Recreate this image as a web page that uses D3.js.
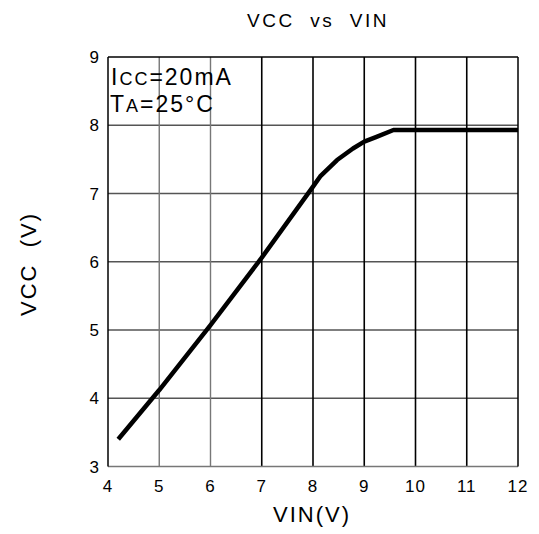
<!DOCTYPE html>
<html><head><meta charset="utf-8">
<script src="https://cdn.jsdelivr.net/npm/d3@7"></script>
<style>body{margin:0;background:#fff}text{font-family:"Liberation Sans",Arial,sans-serif;fill:#000;white-space:pre}</style>
</head><body><svg id="c" width="539" height="534"></svg>
<script>
const vin = [4.2, 5.0, 6.0, 7.0, 8.0, 8.14, 8.47, 8.78, 9.0, 9.24, 9.57, 10, 11, 12];
const vcc = [3.4, 4.12, 5.07, 6.06, 7.1, 7.25, 7.49, 7.66, 7.76, 7.83, 7.93, 7.93, 7.93, 7.93];
const xTicks = [4,5,6,7,8,9,10,11,12];
const yTicks = [3,4,5,6,7,8,9];
const title = "VCC  vs  VIN";
const xLabel = "VIN(V)";
const yLabel = "VCC  (V)";

const svg = d3.select("#c");
const L=108,R=518,T=57,B=466.5;
const x = d3.scaleLinear().domain([4,12]).range([L,R]);
const y = d3.scaleLinear().domain([3,9]).range([B,T]);

svg.append("g").selectAll("line").data(yTicks.slice(1,-1)).join("line")
  .attr("x1",L).attr("x2",R).attr("y1",d=>y(d)).attr("y2",d=>y(d))
  .attr("stroke","#555").attr("stroke-width",1.3);
svg.append("g").selectAll("line").data(xTicks.slice(1,-1)).join("line")
  .attr("y1",T).attr("y2",B).attr("x1",d=>x(d)).attr("x2",d=>x(d))
  .attr("stroke",d=>d<7?"#777":"#000").attr("stroke-width",d=>d<7?1.4:1.6);
svg.append("line").attr("x1",L).attr("x2",R).attr("y1",B).attr("y2",B).attr("stroke","#777").attr("stroke-width",1.5);
svg.append("line").attr("x1",L).attr("x2",R).attr("y1",T).attr("y2",T).attr("stroke","#000").attr("stroke-width",1.5);
svg.append("line").attr("x1",L).attr("x2",L).attr("y1",T).attr("y2",B).attr("stroke","#000").attr("stroke-width",1.5);
svg.append("line").attr("x1",R).attr("x2",R).attr("y1",T).attr("y2",B).attr("stroke","#000").attr("stroke-width",1.5);

const pts = vin.map((v,i)=>[v,vcc[i]]);
svg.append("path").datum(pts)
  .attr("d", d3.line().x(d=>x(d[0])).y(d=>y(d[1])))
  .attr("fill","none").attr("stroke","#000").attr("stroke-width",4.5).attr("stroke-linejoin","round");

svg.append("g").selectAll("text").data(xTicks).join("text")
  .attr("x",d=>x(d)).attr("y",492).attr("text-anchor","middle")
  .attr("font-size",17).attr("letter-spacing",1).text(d=>d);
svg.append("g").selectAll("text").data(yTicks).join("text")
  .attr("x",99).attr("y",d=>y(d)+6).attr("text-anchor","end")
  .attr("font-size",17).text(d=>d);

svg.append("text").attr("x",318).attr("y",27).attr("text-anchor","middle").attr("font-size",19).attr("letter-spacing",2.5).text(title);
svg.append("text").attr("x",312).attr("y",522).attr("text-anchor","middle").attr("font-size",22).attr("letter-spacing",2).text(xLabel);
svg.append("text").attr("transform","translate(36,264) rotate(-90)").attr("text-anchor","middle").attr("font-size",22).attr("letter-spacing",2).text(yLabel);

const a1 = svg.append("text").attr("x",111).attr("y",85).attr("font-size",23).attr("letter-spacing",2);
a1.append("tspan").text("I");
a1.append("tspan").attr("font-size",18).text("CC");
a1.append("tspan").text("=20mA");
const a2 = svg.append("text").attr("x",110).attr("y",112).attr("font-size",23).attr("letter-spacing",2);
a2.append("tspan").text("T");
a2.append("tspan").attr("font-size",18).text("A");
a2.append("tspan").text("=25°C");
</script></body></html>
